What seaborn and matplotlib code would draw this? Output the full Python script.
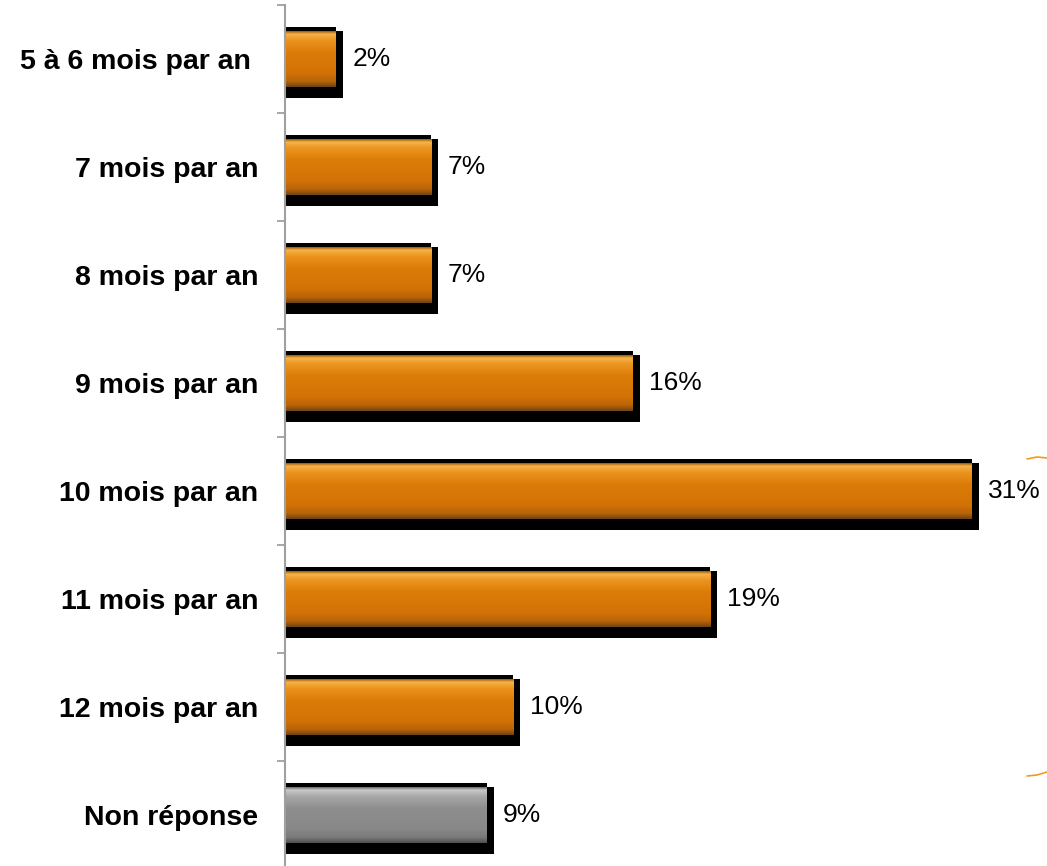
import numpy as np
import pandas as pd
import matplotlib
matplotlib.use("Agg")
import matplotlib.pyplot as plt
import matplotlib.patheffects as pe
from matplotlib.colors import LinearSegmentedColormap
import seaborn as sns

# data
categories = ["5 à 6 mois par an ", "7 mois par an", "8 mois par an", "9 mois par an",
              "10 mois par an", "11 mois par an", "12 mois par an", "Non réponse"]
values = [2.3, 6.6, 6.6, 15.7, 31.0, 19.2, 10.3, 9.1]
value_labels = ["2%", "7%", "7%", "16%", "31%", "19%", "10%", "9%"]

orange = "#DA790B"
grey = "#8A8A8A"
bar_colors = [orange] * 7 + [grey]

# vertical shading of the bars (top -> bottom)
stops = [0, 0.05, 0.16, 0.38, 0.75, 0.9, 1.0]
shade = {
    orange: ["#9A5A10", "#F7B447", "#EC9420", "#DC7C08", "#D27206", "#B86408", "#6E4418"],
    grey: ["#6A6A6A", "#CACACA", "#A8A8A8", "#8E8E8E", "#888888", "#7A7A7A", "#505050"],
}

sns.set_style("white")
plt.rcParams["font.family"] = ["Liberation Sans", "DejaVu Sans"]
plt.rcParams["text.color"] = "black"
plt.rcParams["ytick.color"] = "black"

df = pd.DataFrame({"cat": categories, "val": values})

fig = plt.figure(figsize=(10.47, 8.66), dpi=100)
ax = fig.add_axes([285 / 1047, -3 / 866, 762 / 1047, 864 / 866])

sns.barplot(data=df, x="val", y="cat", hue="cat", palette=bar_colors, legend=False,
            saturation=1, width=0.51, linewidth=0, ax=ax)

shadow = [pe.SimplePatchShadow(offset=(0, 3.5), shadow_rgbFace="black", alpha=1.0),
          pe.SimplePatchShadow(offset=(0, -8.5), shadow_rgbFace="black", alpha=1.0),
          pe.SimplePatchShadow(offset=(5, -8.5), shadow_rgbFace="black", alpha=1.0),
          pe.SimplePatchShadow(offset=(5, 0), shadow_rgbFace="black", alpha=1.0),
          pe.Normal()]

for p, c in zip(ax.patches, bar_colors):
    p.set_path_effects(shadow)
    cmap = LinearSegmentedColormap.from_list("g", list(zip(stops, shade[c])))
    x0, y0, w, h = p.get_x(), p.get_y(), p.get_width(), p.get_height()
    grad = np.linspace(0, 1, 200).reshape(-1, 1)
    im = ax.imshow(grad, cmap=cmap, aspect="auto", extent=(x0, x0 + w, y0 + h, y0),
                   origin="upper", zorder=p.get_zorder() + 0.1, interpolation="bilinear")
    im.set_clip_path(p)

for cont, lab in zip(ax.containers, value_labels):
    ax.bar_label(cont, labels=[lab], padding=12, fontsize=19)

ax.set_xlim(0, 34.4)
ax.set_ylim(len(categories) - 0.5, -0.5)
ax.set_xlabel("")
ax.set_ylabel("")
ax.set_xticks([])

ax.tick_params(axis="y", which="major", length=0, pad=19, labelsize=20.5)
for t in ax.get_yticklabels():
    t.set_fontweight("bold")
ax.set_yticks(np.arange(-0.5, len(categories) + 0.5, 1), minor=True)
ax.tick_params(axis="y", which="minor", left=True, length=6, width=1.3,
               color="#A0A0A0", direction="out")

for s in ["top", "right", "bottom"]:
    ax.spines[s].set_visible(False)
ax.spines["left"].set_color("#A0A0A0")
ax.spines["left"].set_linewidth(1.5)

# small orange arc marks at right edge
fig.add_artist(plt.Line2D([1027 / 1047, 1037 / 1047, 1047 / 1047],
                          [1 - 459 / 866, 1 - 457 / 866, 1 - 458 / 866],
                          color="#F39A1E", lw=1.2, transform=fig.transFigure))
fig.add_artist(plt.Line2D([1027 / 1047, 1037 / 1047, 1047 / 1047],
                          [1 - 776 / 866, 1 - 775 / 866, 1 - 772 / 866],
                          color="#F39A1E", lw=1.2, transform=fig.transFigure))

fig.savefig("out.png", dpi=100)
